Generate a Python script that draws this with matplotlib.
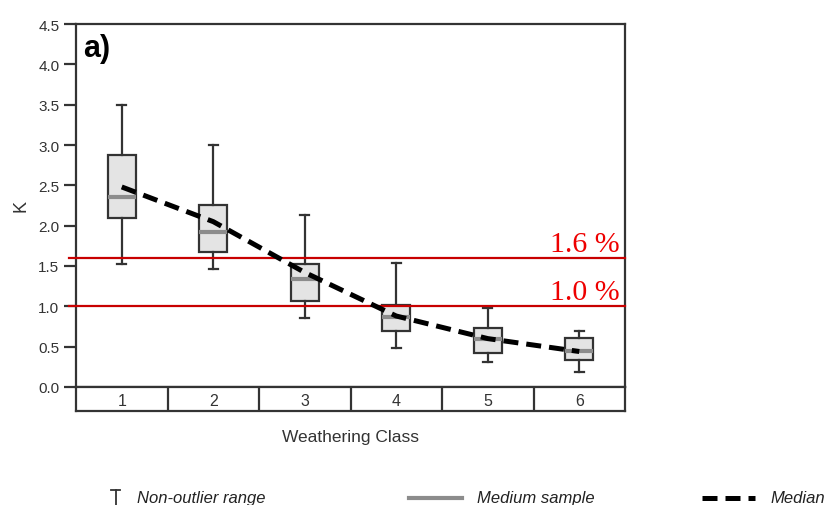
import matplotlib
matplotlib.use("Agg")
import matplotlib.pyplot as plt
from matplotlib.lines import Line2D
from matplotlib.transforms import blended_transform_factory

plt.rcParams['font.family'] = ['Liberation Sans', 'DejaVu Sans']

# values
classes = [1, 2, 3, 4, 5, 6]
whis_hi = [3.50, 3.00, 2.13, 1.54, 0.98, 0.70]
box_hi = [2.87, 2.26, 1.52, 1.02, 0.73, 0.61]
medium = [2.35, 1.92, 1.34, 0.87, 0.60, 0.45]
box_lo = [2.09, 1.67, 1.07, 0.70, 0.42, 0.33]
whis_lo = [1.53, 1.46, 0.86, 0.48, 0.31, 0.19]
median = [2.48, 2.05, 1.42, 0.88, 0.60, 0.44]
thresholds = [1.6, 1.0]
threshold_labels = ["1.6 %", "1.0 %"]
yticks = [0.0, 0.5, 1.0, 1.5, 2.0, 2.5, 3.0, 3.5, 4.0, 4.5]

dark = '#333333'
W, H = 827, 506
fig = plt.figure(figsize=(W / 100, H / 100), dpi=100)
ax = fig.add_axes([76 / W, 1 - 388 / H, 549 / W, 363 / H])
sax = fig.add_axes([76 / W, 1 - 412 / H, 549 / W, 24 / H], sharex=ax)

stats = []
for i in range(len(classes)):
    stats.append(dict(med=medium[i], q1=box_lo[i], q3=box_hi[i],
                      whislo=whis_lo[i], whishi=whis_hi[i], fliers=[]))
ax.bxp(stats, positions=classes, widths=0.31, capwidths=0.1, patch_artist=True,
       boxprops=dict(facecolor='#e4e4e4', edgecolor=dark, linewidth=1.6),
       whiskerprops=dict(color=dark, linewidth=1.6),
       capprops=dict(color=dark, linewidth=1.6),
       medianprops=dict(color='#8c8c8c', linewidth=3), zorder=2)

ax.plot(classes, median, color='black', lw=3.6, dashes=(3, 1.6), zorder=4)

tr = blended_transform_factory(ax.transAxes, ax.transData)
for y, lab in zip(thresholds, threshold_labels):
    ax.axhline(y, xmin=-0.013, xmax=1.0, color='#c80000', lw=1.6, clip_on=False, zorder=3)
    ax.text(0.991, y + 0.085, lab, transform=tr, ha='right', va='baseline',
            color='#ee0000', fontsize=21.5, family=['Liberation Serif', 'DejaVu Serif'])

ax.set_xlim(0.5, 6.5)
ax.set_ylim(0, 4.5)
ax.set_yticks(yticks)
ax.set_yticklabels([f"{v:.1f}" for v in yticks])
ax.tick_params(axis='y', direction='out', length=9, width=1.6, color=dark,
               labelsize=11, labelcolor=dark, pad=3)
ax.tick_params(axis='x', bottom=False, labelbottom=False)
for s in ax.spines.values():
    s.set_color(dark)
    s.set_linewidth(1.6)
ax.set_ylabel('K', fontsize=13, color=dark, labelpad=6)
ax.text(0.013, 0.975, 'a)', transform=ax.transAxes, ha='left', va='top',
        fontsize=22, fontweight='bold')

# category strip under the axis
sax.set_ylim(0, 1)
sax.set_yticks([])
sax.tick_params(axis='x', bottom=False, labelbottom=False)
for s in sax.spines.values():
    s.set_color(dark)
    s.set_linewidth(1.6)
for c in classes[:-1]:
    sax.axvline(c + 0.5, color=dark, lw=1.6)
for c in classes:
    sax.text(c, 0.45, str(c), ha='center', va='center', fontsize=11.5, color=dark)
sax.set_xlabel('Weathering Class', fontsize=12.5, color=dark, labelpad=13)

# legend row along the bottom edge
fig.add_artist(Line2D([115.5 / W, 115.5 / W], [1 - 491 / H, 1 - 507 / H], color=dark, lw=1.3))
fig.add_artist(Line2D([111 / W, 120 / W], [1 - 491 / H, 1 - 491 / H], color=dark, lw=1.3))
fig.text(137 / W, 1 - 503 / H, 'Non-outlier range', style='italic', fontsize=12,
         color='#222222', va='baseline')
fig.add_artist(Line2D([409 / W, 462 / W], [1 - 499 / H, 1 - 499 / H], color='#8c8c8c', lw=3))
fig.text(477 / W, 1 - 503 / H, 'Medium sample', style='italic', fontsize=12,
         color='#222222', va='baseline')
fig.add_artist(Line2D([702 / W, 755 / W], [1 - 499 / H, 1 - 499 / H], color='black', lw=3.6,
                      dashes=(3, 1.6)))
fig.text(770 / W, 1 - 503 / H, 'Median', style='italic', fontsize=12,
         color='#222222', va='baseline')

fig.savefig('out.png', dpi=100)
